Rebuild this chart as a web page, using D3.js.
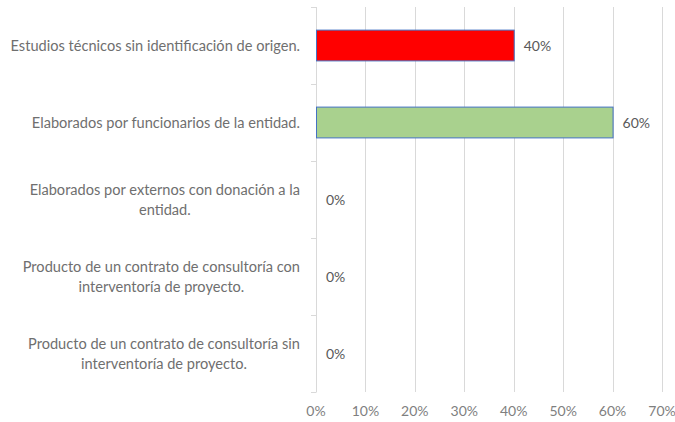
<!DOCTYPE html>
<html>
<head>
<meta charset="utf-8">
<script src="https://cdn.jsdelivr.net/npm/d3@7"></script>
<style>
  body { margin: 0; background: #fff; overflow: hidden; }
  svg { font-family: Lato, "Open Sans", sans-serif; display: block; }
</style>
</head>
<body>
<script>
// categories (wrapped as in the original), values and colours
var categories = [
    ["Estudios técnicos sin identificación de origen."],
    ["Elaborados por funcionarios de la entidad."],
    ["Elaborados por externos con donación a la", "entidad."],
    ["Producto de un contrato de consultoría con", "interventoría de proyecto."],
    ["Producto de un contrato de consultoría sin", "interventoría de proyecto."]
];
var values = [0.40, 0.60, 0, 0, 0];
var barColors = ["#ff0000", "#a9d18e", "#4472c4", "#4472c4", "#4472c4"];
var xTicks = [0, 0.1, 0.2, 0.3, 0.4, 0.5, 0.6, 0.7];

var w = 675, h = 422;
var mLeft = 316, mRight = 662, mTop = 7, mBottom = 392;

var svg = d3.select("body").append("svg")
    .attr("width", w)
    .attr("height", h);

var x = d3.scaleLinear().domain([0, 0.7]).range([mLeft, mRight]);
var y = d3.scaleBand().domain(d3.range(categories.length))
    .range([mTop, mBottom]).paddingInner(0.6).paddingOuter(0.3);
var yb = d3.scaleBand().domain(d3.range(categories.length)).range([mTop, mBottom]);

// gridlines
svg.append("g").selectAll("line")
    .data(xTicks.slice(1))
    .enter().append("line")
    .attr("x1", function(d) { return Math.round(x(d)) + 0.5; })
    .attr("x2", function(d) { return Math.round(x(d)) + 0.5; })
    .attr("y1", mTop).attr("y2", mBottom)
    .attr("stroke", "#d9d9d9").attr("stroke-width", 1);

// x tick labels
svg.append("g").selectAll("text")
    .data(xTicks)
    .enter().append("text")
    .attr("x", function(d) { return x(d); })
    .attr("y", 416)
    .attr("text-anchor", "middle")
    .style("font-size", "14px")
    .style("fill", "#7f7f7f")
    .text(d3.format(".0%"));

// vertical category axis with outer tick marks
svg.append("line")
    .attr("x1", mLeft + 0.5).attr("x2", mLeft + 0.5)
    .attr("y1", mTop).attr("y2", mBottom)
    .attr("stroke", "#d9d9d9");
svg.append("g").selectAll("line")
    .data(d3.range(categories.length + 1))
    .enter().append("line")
    .attr("x1", mLeft - 5).attr("x2", mLeft + 0.5)
    .attr("y1", function(i) { return Math.round(mTop + i * yb.step()) + 0.5; })
    .attr("y2", function(i) { return Math.round(mTop + i * yb.step()) + 0.5; })
    .attr("stroke", "#d9d9d9");

// bars
svg.append("g").selectAll("rect")
    .data(values)
    .enter().append("rect")
    .attr("x", x(0) + 0.5)
    .attr("y", function(d, i) { return y(i); })
    .attr("width", function(d) { return x(d) - x(0); })
    .attr("height", y.bandwidth())
    .style("display", function(d) { return d > 0 ? null : "none"; })
    .style("fill", function(d, i) { return barColors[i]; })
    .style("stroke", "#4472c4")
    .style("stroke-width", 1);

// value labels
svg.append("g").selectAll("text")
    .data(values)
    .enter().append("text")
    .attr("x", function(d) { return x(d) + 10; })
    .attr("y", function(d, i) { return yb(i) + yb.bandwidth() / 2 + 5; })
    .style("font-size", "14px")
    .style("fill", "#595959")
    .text(d3.format(".0%"));

// category labels: block right-aligned, lines centred
var labelRight = 300;
categories.forEach(function(lines, i) {
    var g = svg.append("g");
    var texts = lines.map(function(line) {
        return g.append("text")
            .style("font-size", "14.6px")
            .style("fill", "#6f6f6f")
            .attr("text-anchor", "middle")
            .text(line);
    });
    var maxW = d3.max(texts, function(t) { return t.node().getComputedTextLength(); });
    var cx = labelRight - maxW / 2;
    var lh = 20;
    var cy = yb(i) + yb.bandwidth() / 2;
    texts.forEach(function(t, k) {
        t.attr("x", cx)
         .attr("y", cy + (k - (lines.length - 1) / 2) * lh + 5);
    });
});
</script>
</body>
</html>
